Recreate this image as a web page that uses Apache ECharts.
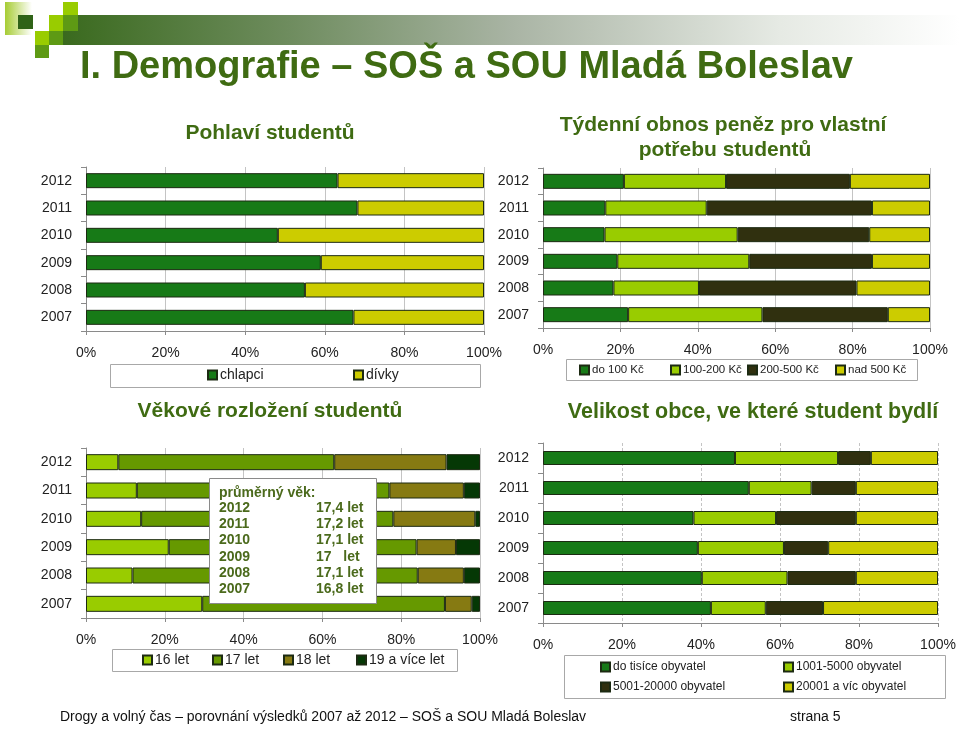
<!DOCTYPE html>
<html>
<head>
<meta charset="utf-8">
<script src="https://cdn.jsdelivr.net/npm/echarts@6/dist/echarts.min.js"></script>
<style>
html,body{margin:0;padding:0;background:#fff;}
#chart{width:960px;height:729px;}
</style>
</head>
<body>
<div id="chart"></div>
<script>
// ---------- data ----------
const years = ['2012', '2011', '2010', '2009', '2008', '2007'];

const genderNames = ['chlapci', 'dívky'];
const boys  = [63.2, 68.2, 48.2, 59.0, 55.0, 67.2];
const girls = [36.8, 31.8, 51.8, 41.0, 45.0, 32.8];

const moneyNames = ['do 100 Kč', '100-200 Kč', '200-500 Kč', 'nad 500 Kč'];
const moneyUpTo100   = [20.9, 16.1, 15.9, 19.2, 18.2, 22.0];
const money100to200  = [26.4, 26.2, 34.4, 34.1, 22.1, 34.7];
const money200to500  = [32.0, 42.7, 34.0, 31.7, 40.7, 32.4];
const moneyOver500   = [20.7, 15.0, 15.7, 15.0, 19.0, 10.9];

const ageNames = ['16 let', '17 let', '18 let', '19 a více let'];
const age16     = [8.2, 12.9, 14.0, 21.0, 11.8, 29.5];
const age17     = [54.8, 64.1, 64.0, 62.9, 72.4, 61.6];
const age18     = [28.5, 18.9, 20.8, 10.0, 11.7, 6.8];
const age19plus = [8.5, 4.1, 1.2, 6.1, 4.1, 2.1];

const townNames = ['do tisíce obyvatel', '1001-5000 obyvatel', '5001-20000 obyvatel', '20001 a víc obyvatel'];
const townUpTo1000     = [48.6, 52.1, 38.1, 39.2, 40.2, 42.5];
const town1001to5000   = [26.1, 15.9, 20.9, 21.8, 21.7, 13.9];
const town5001to20000  = [8.3, 11.2, 20.2, 11.2, 17.3, 14.5];
const townOver20000    = [17.0, 20.8, 20.8, 27.8, 20.8, 29.1];

const avgAgeTitle = 'průměrný věk:';
const avgAgeYears = ['2012', '2011', '2010', '2009', '2008', '2007'];
const avgAgeValues = ['17,4 let', '17,2 let', '17,1 let', '17   let', '17,1 let', '16,8 let'];

const pageTitle = 'I. Demografie – SOŠ a SOU Mladá Boleslav';
const footerText = 'Drogy a volný čas – porovnání výsledků 2007 až 2012 – SOŠ a SOU Mladá Boleslav';
const pageNumber = 'strana 5';

// ---------- styles ----------
const C = {
  dkgreen: '#177a17',
  yellow: '#cccc00',
  lime: '#99cc00',
  vdark: '#30300f',
  green17: '#669900',
  olive: '#867a12',
  dark19: '#053805',
  titleGreen: '#3f6b12',
  border: '#1c2a12'
};
const FONT = 'Liberation Sans, Arial, sans-serif';

const grids = [
  { left: 86, top: 167, width: 398, height: 164, barW: 15, dashed: false },
  { left: 543, top: 168, width: 387, height: 160, barW: 15, dashed: false },
  { left: 86, top: 448, width: 394, height: 170, barW: 16, dashed: false },
  { left: 543, top: 443, width: 395, height: 180, barW: 14, dashed: true }
];

const chart = echarts.init(document.getElementById('chart'), null, { renderer: 'canvas' });

const option = {
  backgroundColor: '#ffffff',
  animation: false,
  grid: grids.map(g => ({ left: g.left, top: g.top, width: g.width, height: g.height, containLabel: false, outerBoundsMode: 'none' })),
  xAxis: grids.map((g, i) => ({
    type: 'value', gridIndex: i, min: 0, max: 100, interval: 20,
    axisLine: { show: true, lineStyle: { color: '#8a8a8a', width: 1 } },
    axisTick: { show: true, length: 4, lineStyle: { color: '#8a8a8a' } },
    splitLine: { show: true, lineStyle: { color: '#c4c4c4', width: 1, type: g.dashed ? [3, 2] : 'solid' } },
    axisLabel: { formatter: '{value}%', color: '#222', fontFamily: FONT, fontSize: 14, margin: 15 }
  })),
  yAxis: grids.map((g, i) => ({
    type: 'category', gridIndex: i, data: years, inverse: true,
    axisLine: { show: true, lineStyle: { color: '#8a8a8a', width: 1 } },
    axisTick: { show: true, length: 5, lineStyle: { color: '#8a8a8a' } },
    splitLine: { show: false },
    axisLabel: { color: '#222', fontFamily: FONT, fontSize: 14, margin: 14 }
  })),
  series: [],
  legend: [],
  graphic: []
};

function addSeries(gridIdx, names, datas, colors) {
  names.forEach((n, k) => {
    option.series.push({
      type: 'bar', name: n, stack: 'g' + gridIdx,
      xAxisIndex: gridIdx, yAxisIndex: gridIdx,
      barWidth: grids[gridIdx].barW,
      data: datas[k],
      itemStyle: { color: colors[k], borderColor: C.border, borderWidth: 1 },
      emphasis: { disabled: true }
    });
  });
}
addSeries(0, genderNames, [boys, girls], [C.dkgreen, C.yellow]);
addSeries(1, moneyNames, [moneyUpTo100, money100to200, money200to500, moneyOver500], [C.dkgreen, C.lime, C.vdark, C.yellow]);
addSeries(2, ageNames, [age16, age17, age18, age19plus], [C.lime, C.green17, C.olive, C.dark19]);
addSeries(3, townNames, [townUpTo1000, town1001to5000, town5001to20000, townOver20000], [C.dkgreen, C.lime, C.vdark, C.yellow]);

// legends: one component per entry for exact placement
function addLegend(name, x, cy, fs) {
  option.legend.push({
    data: [name], left: x, top: cy - 8, padding: 0,
    itemWidth: 9, itemHeight: 9, itemGap: 0, icon: 'rect',
    selectedMode: false,
    textStyle: { color: '#222', fontFamily: FONT, fontSize: fs, lineHeight: 16, padding: [0, 0, 0, -2] }
  });
}
addLegend(genderNames[0], 207, 375, 14);
addLegend(genderNames[1], 353, 375, 14);
[579, 670, 747, 835].forEach((x, k) => addLegend(moneyNames[k], x, 370, 11.5));
[142, 212, 283, 356].forEach((x, k) => addLegend(ageNames[k], x, 660, 14));
addLegend(townNames[0], 600, 667, 12);
addLegend(townNames[1], 783, 667, 12);
addLegend(townNames[2], 600, 687, 12);
addLegend(townNames[3], 783, 687, 12);

// legend frames
const frames = [[110, 364, 370, 23], [566, 359, 351, 21], [112, 649, 345, 22], [564, 655, 381, 43]];
frames.forEach(f => option.graphic.push({
  type: 'rect', shape: { x: f[0] + 0.5, y: f[1] + 0.5, width: f[2], height: f[3] },
  style: { fill: '#fff', stroke: '#a8a8a8', lineWidth: 1 }, z: -1, silent: true
}));

// header decoration
option.graphic.push(
  { type: 'rect', shape: { x: 63, y: 15, width: 897, height: 30 }, silent: true,
    style: { fill: new echarts.graphic.LinearGradient(0, 0, 1, 0, [
      { offset: 0, color: '#3a6a1e' }, { offset: 0.25, color: '#6e8c5e' }, { offset: 0.5, color: '#a9b4a4' },
      { offset: 0.8, color: '#e6eae4' }, { offset: 1, color: '#ffffff' }]) } },
  { type: 'rect', shape: { x: 5, y: 2, width: 27, height: 33 }, silent: true,
    style: { fill: new echarts.graphic.LinearGradient(0, 0, 1, 0, [
      { offset: 0, color: '#a6cc33' }, { offset: 1, color: '#ffffff' }]) } },
  { type: 'rect', shape: { x: 18, y: 15, width: 15, height: 14 }, style: { fill: '#2f6317' }, silent: true },
  { type: 'rect', shape: { x: 35, y: 31, width: 14, height: 14 }, style: { fill: '#99cc00' }, silent: true },
  { type: 'rect', shape: { x: 35, y: 45, width: 14, height: 13 }, style: { fill: '#5e9a14' }, silent: true },
  { type: 'rect', shape: { x: 49, y: 15, width: 14, height: 16 }, style: { fill: '#99cc00' }, silent: true },
  { type: 'rect', shape: { x: 49, y: 31, width: 14, height: 14 }, style: { fill: '#5e9a14' }, silent: true },
  { type: 'rect', shape: { x: 63, y: 2, width: 15, height: 13 }, style: { fill: '#99cc00' }, silent: true },
  { type: 'rect', shape: { x: 63, y: 15, width: 15, height: 16 }, style: { fill: '#5e9a14' }, silent: true }
);

// titles
function addText(txt, x, y, fs, weight, color, align, family) {
  option.graphic.push({
    type: 'text', x: x, y: y, silent: true,
    style: { text: txt, fontSize: fs, fontWeight: weight, fill: color, fontFamily: family || FONT,
      align: align || 'left', verticalAlign: 'middle' }
  });
}
addText(pageTitle, 80, 68, 38, 'bold', C.titleGreen, 'left');
addText('Pohlaví studentů', 270, 133, 21, 'bold', C.titleGreen, 'center');
addText('Týdenní obnos peněz pro vlastní', 723, 125, 21, 'bold', C.titleGreen, 'center');
addText('potřebu studentů', 725, 150, 21, 'bold', C.titleGreen, 'center');
addText('Věkové rozložení studentů', 270, 411, 21, 'bold', C.titleGreen, 'center');
addText('Velikost obce, ve které student bydlí', 753, 412, 21.5, 'bold', C.titleGreen, 'center');
addText(footerText, 60, 717, 14, 'normal', '#111', 'left');
addText(pageNumber, 790, 717, 14, 'normal', '#111', 'left');

// average age box
option.graphic.push({
  type: 'rect', shape: { x: 209.5, y: 478.5, width: 167, height: 125 }, z: 100, silent: true,
  style: { fill: '#ffffff', stroke: '#8a8a8a', lineWidth: 1 }
});
const boxText = { type: 'group', z: 101, silent: true, children: [] };
boxText.children.push({ type: 'text', x: 219, y: 493, z: 101,
  style: { text: avgAgeTitle, fontSize: 14, fontWeight: 'bold', fill: '#4b6a1c', fontFamily: FONT, verticalAlign: 'middle' } });
avgAgeYears.forEach((yr, k) => {
  const cy = 508 + k * 16.3;
  boxText.children.push({ type: 'text', x: 219, y: cy, z: 101,
    style: { text: yr, fontSize: 14, fontWeight: 'bold', fill: '#4b6a1c', fontFamily: FONT, verticalAlign: 'middle' } });
  boxText.children.push({ type: 'text', x: 316, y: cy, z: 101,
    style: { text: avgAgeValues[k], fontSize: 14, fontWeight: 'bold', fill: '#4b6a1c', fontFamily: FONT, verticalAlign: 'middle' } });
});
option.graphic.push(boxText);

chart.setOption(option);
</script>
</body>
</html>
